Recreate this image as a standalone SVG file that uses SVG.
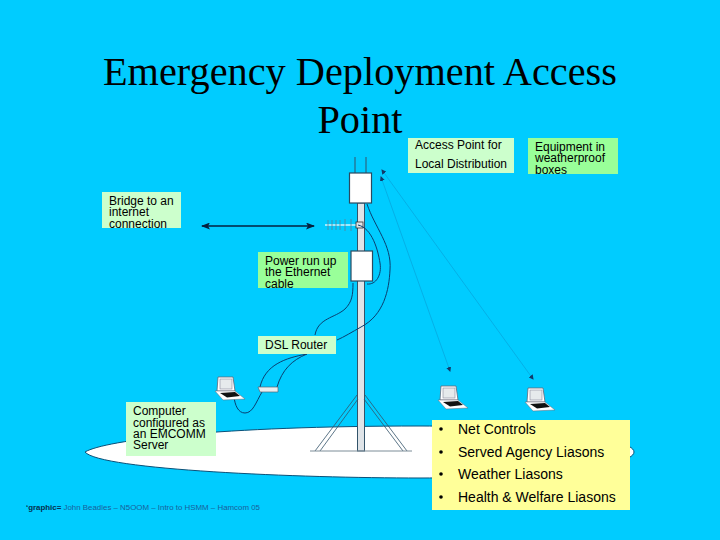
<svg xmlns="http://www.w3.org/2000/svg" width="720" height="540" viewBox="0 0 720 540">
<defs>
<style>
.lb{font-family:"Liberation Sans",Arial,sans-serif;font-size:12px;fill:#000}
.bl{font-family:"Liberation Sans",Arial,sans-serif;font-size:14px;fill:#000}
.cable{fill:none;stroke:#0a3f70;stroke-width:1}
.thin{fill:none;stroke:#05b0e6;stroke-width:1}
.box{fill:#fff;stroke:#2a4a60;stroke-width:1.2}
.green{fill:#ccffcc}
.dg{fill:#99ff99}
</style>
<marker id="ah" markerWidth="9" markerHeight="7" refX="8" refY="3.500" orient="auto-start-reverse" markerUnits="userSpaceOnUse"><path d="M0 0L9 3.500L0 7L2 3.500z" fill="#05213f"/></marker>
<marker id="sm" markerWidth="5" markerHeight="5" refX="4" refY="2.500" orient="auto-start-reverse" markerUnits="userSpaceOnUse"><path d="M0 0L5 2.500L0 5z" fill="#123a6a"/></marker>
<g id="laptop">
<path d="M-8 -11H7L9 3H-9z" fill="#fff" stroke="#667" stroke-width=".8"/>
<rect x="-6" y="-9" width="12" height="10" fill="#e6eaec" stroke="#889" stroke-width=".6"/>
<path d="M-11 3L9 3L19 11L-3 12z" fill="#fff" stroke="#667" stroke-width=".5"/>
<path d="M-6 5L9 4L14 8L1 9.500z" fill="#111"/>
</g>
</defs>
<rect width="720" height="540" fill="#00ccff"/>
<g id="ground"><path d="M85 452C105 440 220 426 420 426C520 426 634 436 634 452C634 468 520 478 420 478C300 478 100 470 85 452Z" fill="#fff" stroke="#0a5078" stroke-width="1"/></g>
<g id="title" font-family="'Liberation Serif','Times New Roman',serif" font-size="40.300" text-anchor="middle" fill="#000">
<text x="360" y="85">Emergency Deployment Access</text>
<text x="360" y="133">Point</text>
</g>
<g id="mast">
<rect x="357.500" y="203" width="7" height="248" fill="#dfe4e8" stroke="#33536a" stroke-width="1"/>
<path d="M355 157V173M366 157V173" stroke="#33536a" fill="none"/>
<path d="M357 395L315 451M358 399L320 451M365 395L407 451M364 399L403 451" stroke="#33536a" stroke-width=".8" fill="none"/>
<path d="M310 451H412" stroke="#7d8d98" fill="none"/>
</g>
<g id="yagi" fill="none">
<path d="M325 225H356" stroke="#fff" stroke-width="1.200"/>
<path d="M328 220V230M332 220V230M336 220V230M340 220V230M345 219V231M351 219V231" stroke="#5a7f95" stroke-width=".8"/>
<rect x="356" y="222" width="7" height="6" fill="#dfe4e8" stroke="#333" stroke-width=".8"/>
</g>
<g id="connectors">
<path class="cable" d="M367 204C375 228 392 245 390 270C389 290 384 315 361 327C352 332 344 337 337 340"/>
<path class="cable" d="M358 225C372 228 378 250 380 263C382 275 376 285 367 284"/>
<path class="cable" d="M353 283C353 295 352 302 345 309C335 318 318 318 315 335"/>
<path class="cable" d="M307 354C285 358 265 365 260 387"/>
<path class="cable" d="M307 354C292 360 282 370 277 387"/>
<path class="cable" d="M262 392C256 402 253 413 245 413C238 413 235 405 234 397"/>
<path class="thin" d="M381 177L450 371" marker-start="url(#sm)" marker-end="url(#sm)"/>
<path class="thin" d="M382 170L533 379" marker-start="url(#sm)" marker-end="url(#sm)"/>
<path d="M202 226H314" stroke="#05213f" stroke-width="1.500" marker-start="url(#ah)" marker-end="url(#ah)" fill="none"/>
</g>
<g id="ap-upper"><rect class="box" x="349.500" y="173" width="22" height="30"/></g>
<g id="ap-lower"><rect class="box" x="351" y="251" width="21.500" height="30"/></g>
<g id="router"><path d="M258 387H278V392H260z" fill="#e8eef0" stroke="#567" stroke-width=".7"/></g>
<use id="laptop-server" href="#laptop" x="226" y="388"/>
<use id="laptop-a" href="#laptop" x="449" y="397"/>
<use id="laptop-b" href="#laptop" x="536" y="399"/>
<g id="label-ap"><rect class="green" x="408" y="138" width="106" height="35"/>
<text class="lb"><tspan x="415" y="149">Access Point for</tspan><tspan x="415" y="168">Local Distribution</tspan></text></g>
<g id="label-equipment"><rect class="dg" x="528" y="138" width="90" height="36"/>
<text class="lb"><tspan x="535" y="151">Equipment in</tspan><tspan x="535" y="162">weatherproof</tspan><tspan x="535" y="174">boxes</tspan></text></g>
<g id="label-bridge"><rect class="green" x="102" y="192" width="79" height="36"/>
<text class="lb"><tspan x="109" y="205">Bridge to an</tspan><tspan x="109" y="216">internet</tspan><tspan x="109" y="228">connection</tspan></text></g>
<g id="label-power"><rect class="dg" x="258" y="252" width="90" height="36"/>
<text class="lb"><tspan x="265" y="265">Power run up</tspan><tspan x="265" y="276">the Ethernet</tspan><tspan x="265" y="288">cable</tspan></text></g>
<g id="label-dsl"><rect class="green" x="258" y="336" width="78" height="18"/>
<text class="lb" x="265" y="349">DSL Router</text></g>
<g id="label-computer"><rect class="green" x="126" y="402" width="90" height="54"/>
<text class="lb"><tspan x="133" y="415">Computer</tspan><tspan x="133" y="427">configured as</tspan><tspan x="133" y="438">an EMCOMM</tspan><tspan x="133" y="449">Server</tspan></text></g>
<g id="bullets"><rect x="432" y="420" width="198" height="90" fill="#ffff99"/>
<circle cx="441" cy="429" r="1.800"/><circle cx="441" cy="452" r="1.800"/><circle cx="441" cy="474" r="1.800"/><circle cx="441" cy="497" r="1.800"/>
<text class="bl" x="458" y="434">Net Controls</text><text class="bl" x="458" y="457">Served Agency Liasons</text><text class="bl" x="458" y="479">Weather Liasons</text><text class="bl" x="458" y="502">Health &amp; Welfare Liasons</text></g>
<g id="credit"><text x="26" y="510" font-family="'Liberation Sans',Arial,sans-serif" font-size="7.900" fill="#1a5f9a"><tspan font-weight="bold" fill="#04304f">‘graphic=</tspan> John Beadles – N5OOM – Intro to HSMM – Hamcom 05</text></g>
</svg>
